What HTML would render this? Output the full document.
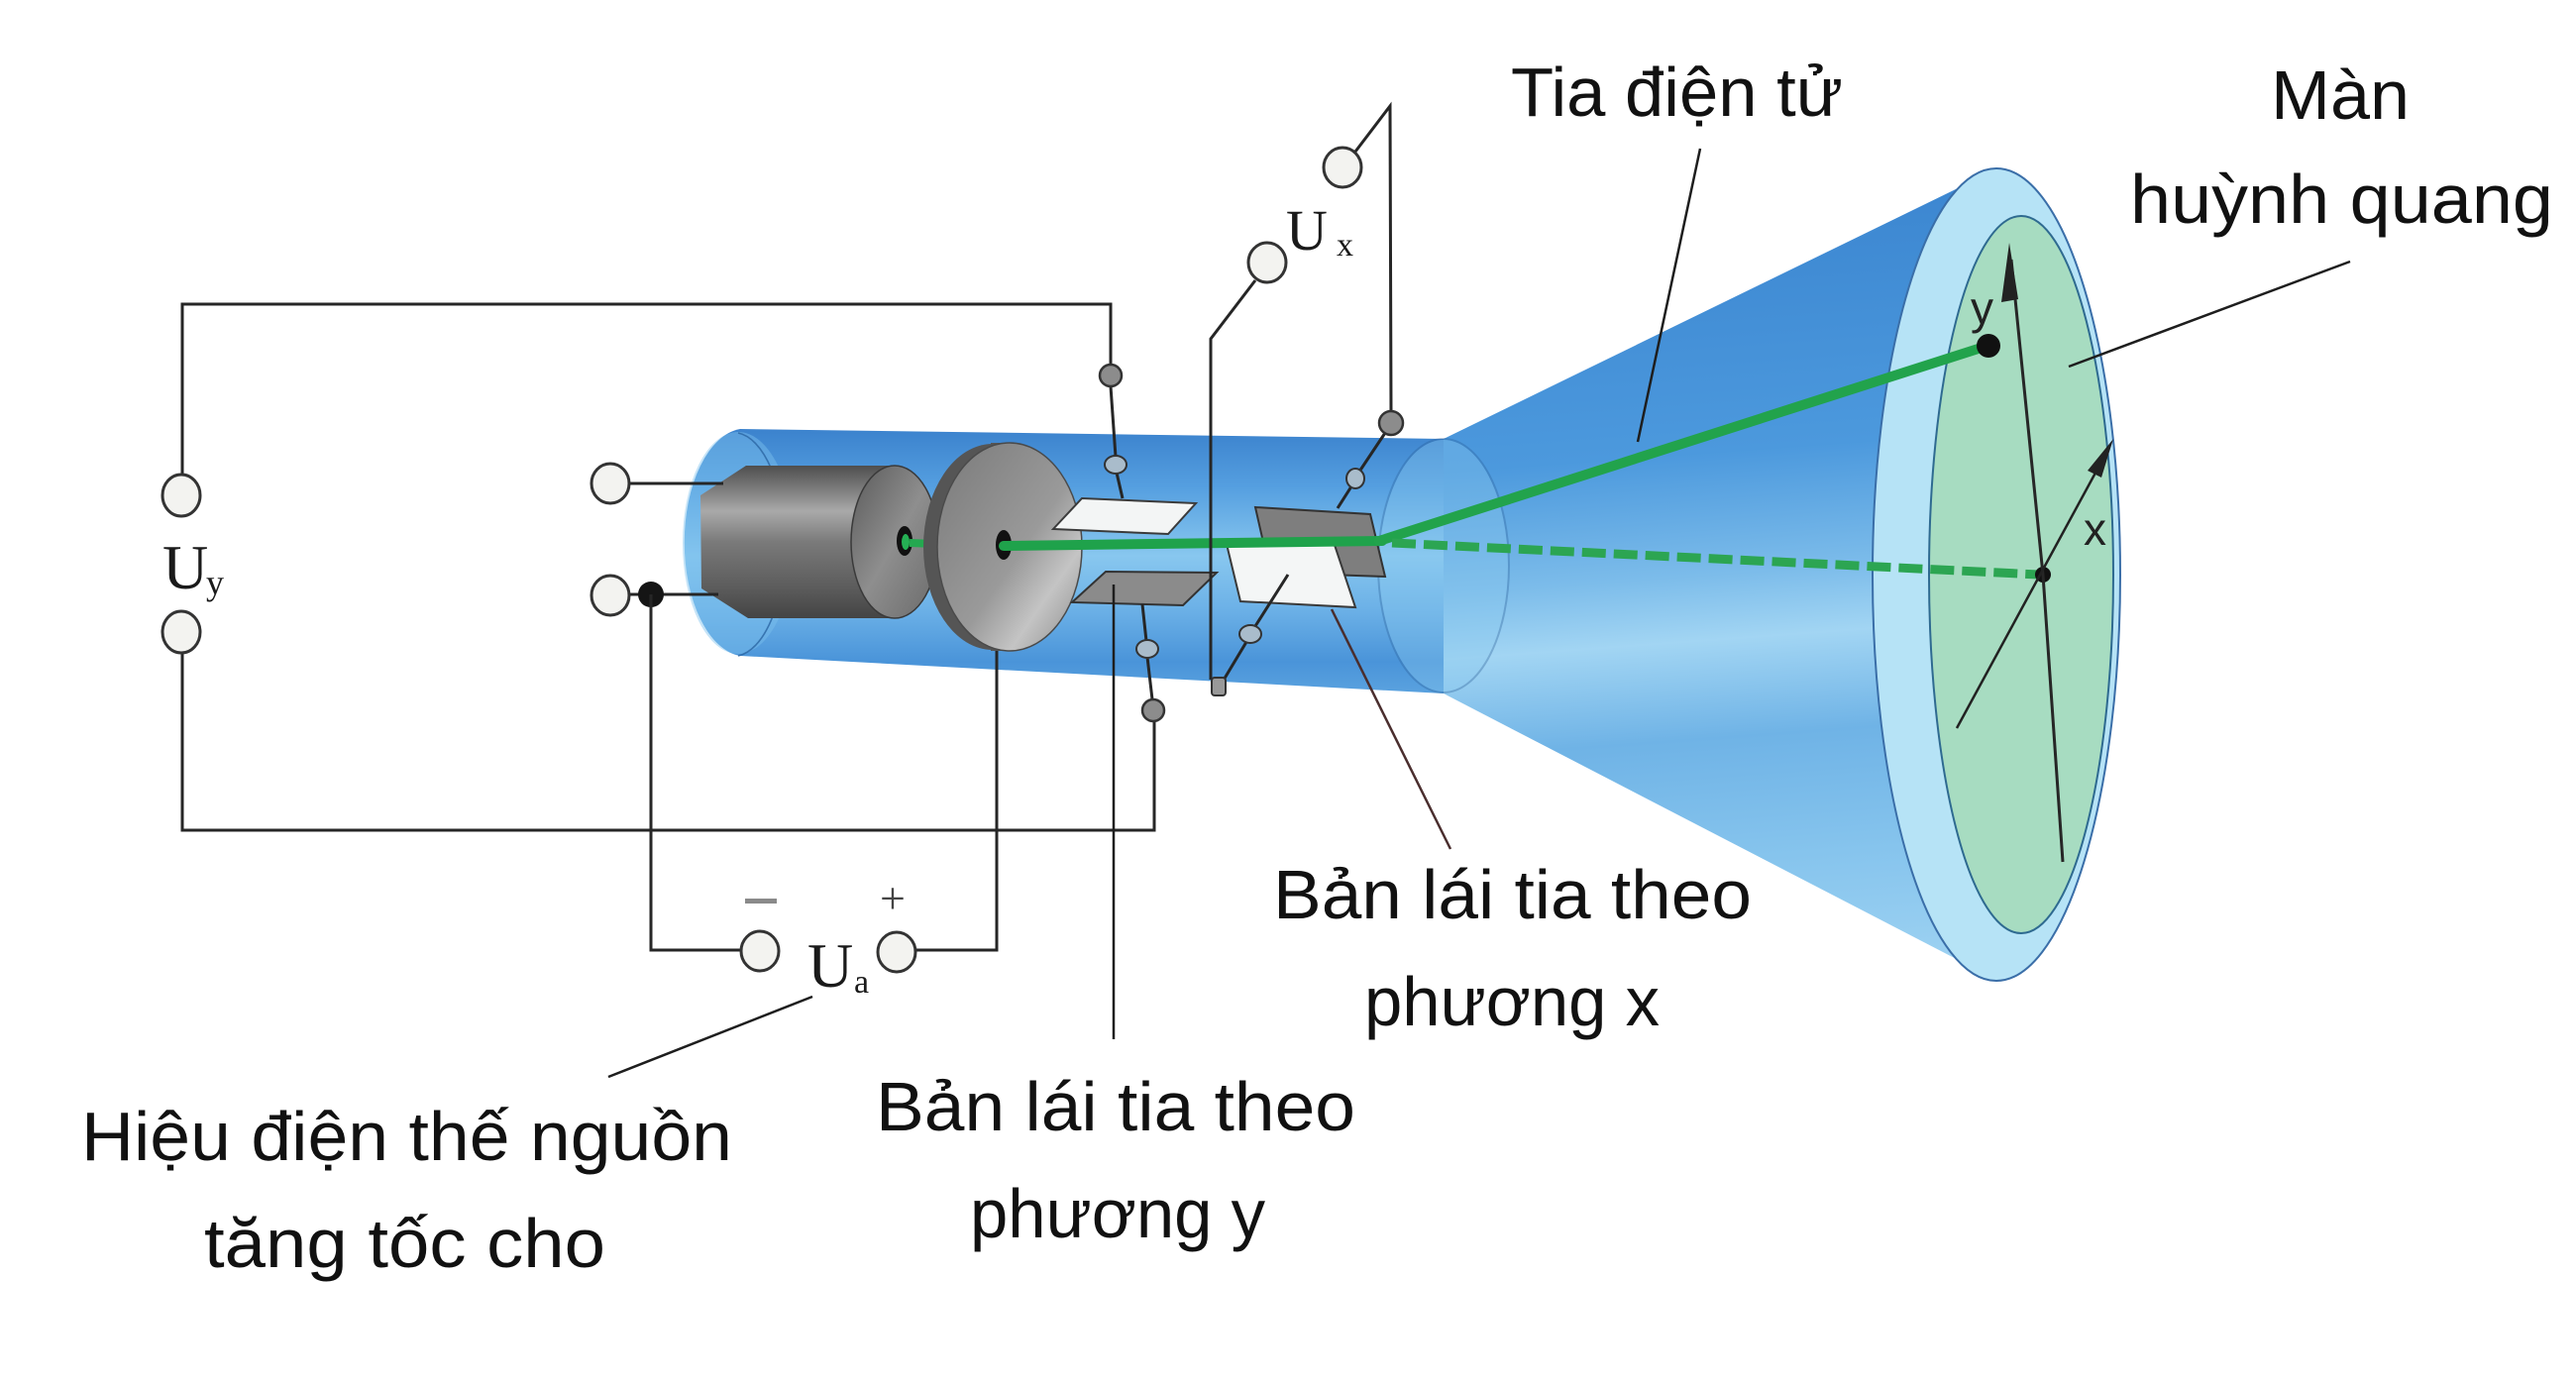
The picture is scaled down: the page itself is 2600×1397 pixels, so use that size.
<!DOCTYPE html>
<html>
<head>
<meta charset="utf-8">
<style>
html,body{margin:0;padding:0;background:#fff;}
svg{display:block;}
.lbl{font-family:"Liberation Sans","DejaVu Sans",sans-serif;font-size:70px;fill:#111;}
.ser{font-family:"Liberation Serif","DejaVu Serif",serif;fill:#1a1a1a;}
.w{stroke:#262626;stroke-width:3;fill:none;}
.pt{stroke:#1e1e1e;stroke-width:2.5;fill:none;}
.term{fill:#f3f3f0;stroke:#333;stroke-width:3;}
.gdot{fill:#8c8c8c;stroke:#333;stroke-width:2.5;}
.feed{fill:#a9bccb;stroke:#333;stroke-width:2;}
</style>
</head>
<body>
<svg width="2600" height="1397" viewBox="0 0 2600 1397" xmlns="http://www.w3.org/2000/svg">
<defs>
  <linearGradient id="tubeG" gradientUnits="userSpaceOnUse" x1="0" y1="433" x2="0" y2="700">
    <stop offset="0" stop-color="#3b82cd"/>
    <stop offset="0.22" stop-color="#559fe0"/>
    <stop offset="0.48" stop-color="#88c7ef"/>
    <stop offset="0.68" stop-color="#6cb1e7"/>
    <stop offset="0.88" stop-color="#4a94d9"/>
    <stop offset="1" stop-color="#5aa2df"/>
  </linearGradient>
  <linearGradient id="coneG" gradientUnits="userSpaceOnUse" x1="1700" y1="170" x2="1760" y2="990">
    <stop offset="0" stop-color="#3a84cf"/>
    <stop offset="0.35" stop-color="#4c99dd"/>
    <stop offset="0.5" stop-color="#7cbcea"/>
    <stop offset="0.58" stop-color="#a2d5f3"/>
    <stop offset="0.7" stop-color="#6fb3e6"/>
    <stop offset="0.85" stop-color="#86c4ed"/>
    <stop offset="1" stop-color="#9dd2f2"/>
  </linearGradient>
  <linearGradient id="cathG" gradientUnits="userSpaceOnUse" x1="0" y1="470" x2="0" y2="624">
    <stop offset="0" stop-color="#4e4e4e"/>
    <stop offset="0.3" stop-color="#a9a9a9"/>
    <stop offset="0.5" stop-color="#7a7a7a"/>
    <stop offset="0.8" stop-color="#5c5c5c"/>
    <stop offset="1" stop-color="#444"/>
  </linearGradient>
  <linearGradient id="faceG" x1="0" y1="0" x2="1" y2="1">
    <stop offset="0" stop-color="#5a5a5a"/>
    <stop offset="0.5" stop-color="#8e8e8e"/>
    <stop offset="1" stop-color="#6a6a6a"/>
  </linearGradient>
  <linearGradient id="discG" x1="0" y1="0" x2="1" y2="1">
    <stop offset="0" stop-color="#7a7a7a"/>
    <stop offset="0.55" stop-color="#9a9a9a"/>
    <stop offset="0.75" stop-color="#c4c4c4"/>
    <stop offset="1" stop-color="#8a8a8a"/>
  </linearGradient>
</defs>

<!-- ===== Tube neck ===== -->
<path d="M747,433 L1457,443 L1457,700 L747,662 A62,115 0 0 1 747,433 Z" fill="url(#tubeG)"/>
<ellipse cx="745" cy="548" rx="56" ry="112" fill="#7cc0ee" opacity="0.45"/>
<path d="M745,437 A52,113 0 0 1 745,662" fill="none" stroke="#2b65a3" stroke-width="1.6" opacity="0.8"/>

<!-- ===== Cone ===== -->
<path d="M1457,443 L2017,170 L2017,990 L1457,700 Z" fill="url(#coneG)"/>
<ellipse cx="1457" cy="571" rx="66" ry="128" fill="#8ccbf0" opacity="0.35" stroke="#2a5f98" stroke-width="2"/>
<!-- rim -->
<ellipse cx="2015" cy="580" rx="125" ry="410" fill="#b6e3f6" stroke="#3a6ea8" stroke-width="2"/>
<!-- screen -->
<ellipse cx="2040" cy="580" rx="93" ry="362" fill="#a7dcc1" stroke="#2e6a90" stroke-width="2"/>

<!-- ===== Electron gun ===== -->
<path d="M753,470 L903,470 L903,624 L755,624 L708,594 L707,500 Z" fill="url(#cathG)"/>
<ellipse cx="903" cy="547" rx="44" ry="77" fill="url(#faceG)" stroke="#3a3a3a" stroke-width="1.5"/>
<ellipse cx="913" cy="546" rx="8" ry="15" fill="#111"/>
<ellipse cx="914" cy="547" rx="4" ry="8" fill="#25b054"/>
<line x1="918" y1="548" x2="945" y2="549" stroke="#25a850" stroke-width="8"/>

<rect x="1000" y="447" width="18" height="210" fill="#555"/>
<ellipse cx="1002" cy="552" rx="70" ry="104" fill="#555"/>
<ellipse cx="1019" cy="552" rx="73" ry="105" fill="url(#discG)" stroke="#4a4a4a" stroke-width="1.5"/>
<ellipse cx="1013" cy="550" rx="8" ry="15" fill="#111"/>

<!-- plates -->
<polygon points="1063,534 1092,503 1207,508 1179,539" fill="#f3f5f5" stroke="#3a3a3a" stroke-width="2"/>
<polygon points="1082,608 1116,577 1228,578 1194,611" fill="#8b8b8b" stroke="#333" stroke-width="2"/>
<polygon points="1267,512 1383,519 1398,582 1282,578" fill="#7e7e7e" stroke="#333" stroke-width="2"/>
<polygon points="1237,545 1347,550 1368,613 1252,607" fill="#f4f6f6" stroke="#3a3a3a" stroke-width="2"/>

<!-- ===== Beam ===== -->
<line x1="1013" y1="551" x2="1395" y2="546" stroke="#1fa24b" stroke-width="10" stroke-linecap="round"/>
<line x1="1392" y1="546" x2="2006" y2="349" stroke="#22a34c" stroke-width="10" stroke-linecap="round"/>
<line x1="1405" y1="548" x2="2058" y2="580" stroke="#2ca552" stroke-width="9" stroke-dasharray="24 8"/>
<circle cx="2007" cy="349" r="12" fill="#111"/>
<circle cx="2062" cy="580" r="8" fill="#111"/>

<!-- screen axes -->
<polyline points="2082,870 2062,580 2030,262" class="w" stroke-width="2.5"/>
<polygon points="2028,245 2020,305 2037,302" fill="#222"/>
<line x1="1975" y1="735" x2="2120" y2="468" stroke="#222" stroke-width="2.5"/>
<polygon points="2133,443 2107,475 2121,482" fill="#222"/>
<text x="1989" y="327" style="font-family:'Liberation Sans',sans-serif;font-size:46px;fill:#222;">y</text>
<text x="2103" y="550" style="font-family:'Liberation Sans',sans-serif;font-size:46px;fill:#222;">x</text>

<!-- ===== Wires: Uy circuit ===== -->
<polyline class="w" points="184,480 184,307 1121,307 1121,368"/>
<polyline class="w" points="184,658 184,838 1165,838 1165,729"/>
<ellipse class="term" cx="183" cy="500" rx="19" ry="21"/>
<ellipse class="term" cx="183" cy="638" rx="19" ry="21"/>
<line class="w" x1="1121" y1="390" x2="1126" y2="461" stroke-width="2"/>
<line class="w" x1="1127" y1="477" x2="1133" y2="503" stroke-width="2"/>
<circle class="gdot" cx="1121" cy="379" r="11"/>
<ellipse class="feed" cx="1126" cy="469" rx="11" ry="9"/>
<line class="w" x1="1153" y1="610" x2="1157" y2="647" stroke-width="2"/>
<line class="w" x1="1158" y1="663" x2="1163" y2="706" stroke-width="2"/>
<ellipse class="feed" cx="1158" cy="655" rx="11" ry="9"/>
<circle class="gdot" cx="1164" cy="717" r="11"/>

<!-- gun terminals -->
<line class="w" x1="636" y1="488" x2="730" y2="488"/>
<line class="w" x1="636" y1="600" x2="725" y2="600"/>
<ellipse class="term" cx="616" cy="488" rx="19" ry="20"/>
<ellipse class="term" cx="616" cy="601" rx="19" ry="20"/>
<circle cx="657" cy="600" r="13" fill="#151515"/>

<!-- Ua circuit -->
<polyline class="w" points="657,600 657,959 748,959"/>
<polyline class="w" points="924,959 1006,959 1006,657"/>
<ellipse class="term" cx="767" cy="960" rx="19" ry="20"/>
<ellipse class="term" cx="905" cy="961" rx="19" ry="20"/>
<rect x="752" y="907" width="32" height="5" fill="#8a8a8a"/>
<text class="ser" x="888" y="922" style="font-size:46px;fill:#444;">+</text>
<text class="ser" x="815" y="996" style="font-size:64px;">U</text>
<text class="ser" x="862" y="1002" style="font-size:34px;">a</text>
<line class="pt" x1="820" y1="1006" x2="614" y2="1087"/>

<!-- Uy label -->
<text class="ser" x="164" y="594" style="font-size:64px;">U</text>
<text class="ser" x="208" y="600" style="font-size:36px;">y</text>

<!-- Ux circuit -->
<ellipse class="term" cx="1355" cy="169" rx="19" ry="20"/>
<ellipse class="term" cx="1279" cy="265" rx="19" ry="20"/>
<polyline class="w" points="1368,153 1403,107 1404,416" stroke-width="2.5"/>
<polyline class="w" points="1267,283 1222,342 1222,686" stroke-width="2.5"/>
<text class="ser" x="1298" y="252" style="font-size:58px;">U</text>
<text class="ser" x="1349" y="258" style="font-size:34px;">x</text>
<line class="w" x1="1398" y1="437" x2="1372" y2="476" stroke-width="2"/>
<line class="w" x1="1364" y1="491" x2="1350" y2="513" stroke-width="2"/>
<circle class="gdot" cx="1404" cy="427" r="12"/>
<ellipse class="feed" cx="1368" cy="483" rx="9" ry="10"/>
<line class="w" x1="1234" y1="688" x2="1258" y2="648" stroke-width="2"/>
<line class="w" x1="1267" y1="632" x2="1300" y2="580" stroke-width="2"/>
<ellipse class="feed" cx="1262" cy="640" rx="11" ry="9"/>
<rect x="1223" y="684" width="14" height="18" rx="3" fill="#999" stroke="#333" stroke-width="2"/>

<!-- pointer lines -->
<line class="pt" x1="1124" y1="590" x2="1124" y2="1049"/>
<line x1="1344" y1="615" x2="1464" y2="857" stroke="#4a2e2e" stroke-width="2.5"/>
<line class="pt" x1="1716" y1="150" x2="1653" y2="446"/>
<line class="pt" x1="2372" y1="264" x2="2088" y2="370"/>

<!-- ===== Labels ===== -->
<text class="lbl" x="1525" y="117" textLength="335" lengthAdjust="spacingAndGlyphs">Tia điện tử</text>
<text class="lbl" x="2292" y="120" textLength="140" lengthAdjust="spacingAndGlyphs">Màn</text>
<text class="lbl" x="2150" y="225" textLength="427" lengthAdjust="spacingAndGlyphs">huỳnh quang</text>
<text class="lbl" x="1285" y="927" textLength="483" lengthAdjust="spacingAndGlyphs">Bản lái tia theo</text>
<text class="lbl" x="1377" y="1035" textLength="298" lengthAdjust="spacingAndGlyphs">phương x</text>
<text class="lbl" x="884" y="1141" textLength="484" lengthAdjust="spacingAndGlyphs">Bản lái tia theo</text>
<text class="lbl" x="979" y="1249" textLength="298" lengthAdjust="spacingAndGlyphs">phương y</text>
<text class="lbl" x="82" y="1171" textLength="657" lengthAdjust="spacingAndGlyphs">Hiệu điện thế nguồn</text>
<text class="lbl" x="206" y="1279" textLength="405" lengthAdjust="spacingAndGlyphs">tăng tốc cho</text>
</svg>
</body>
</html>
